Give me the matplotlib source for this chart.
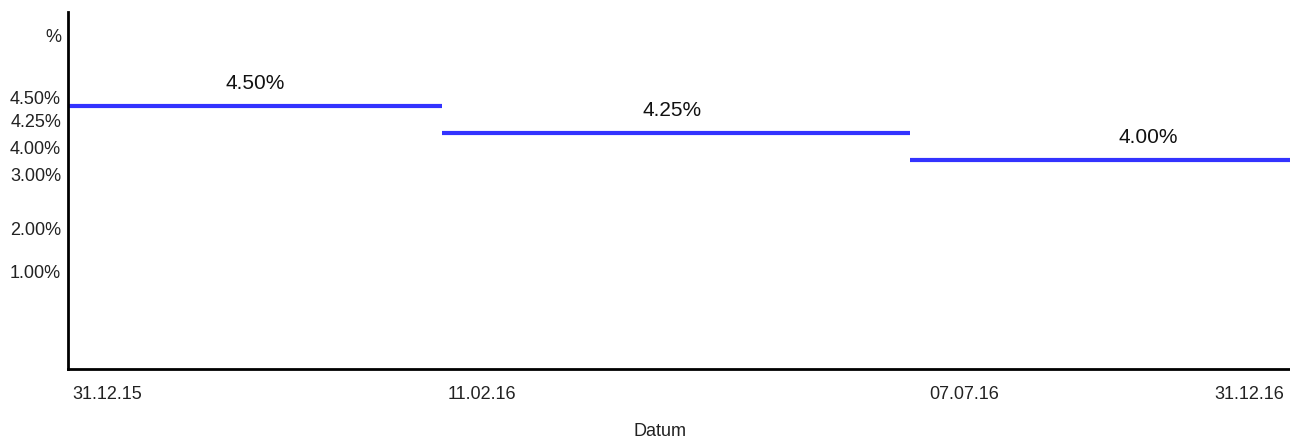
import matplotlib.pyplot as plt

plt.rcParams['font.family'] = ['Liberation Sans', 'DejaVu Sans']

# step segments (x in axis scale units, rates in %)
seg_start = [0, 374, 842]
seg_end = [374, 842, 1222]
rates = [4.50, 4.25, 4.00]
rate_labels = ['4.50%', '4.25%', '4.00%']
label_x = [187, 604, 1080]

# date axis labels
dates = ['31.12.15', '11.02.16', '07.07.16', '31.12.16']
date_pos = [39, 414, 896, 1181]

# y tick labels as drawn in the original
ytick_pos = [5.148, 4.583, 4.361, 4.111, 3.861, 3.37, 2.963]
ytick_text = ['%', '4.50%', '4.25%', '4.00%', '3.00%', '2.00%', '1.00%']

fig = plt.figure(figsize=(12.9, 4.41), dpi=100)
ax = fig.add_axes([68/1290, 1-369/441, 1-68/1290, (369-12)/441])

for x0, x1, r in zip(seg_start, seg_end, rates):
    ax.hlines(r, x0, x1, color='#3333ff', linewidth=3)

for x, r, t in zip(label_x, rates, rate_labels):
    ax.annotate(t, (x, r), xytext=(0, 9), textcoords='offset points',
                ha='center', va='bottom', fontsize=15, color='#111111')

ax.set_xlim(0, 1222)
ax.set_ylim(2.065, 5.37)
ax.set_yticks(ytick_pos)
ax.set_yticklabels(ytick_text, fontsize=13, color='#222222')
ax.set_xticks(date_pos)
ax.set_xticklabels(dates, fontsize=13, color='#222222')
ax.tick_params(length=0, pad=5)
ax.tick_params(axis='x', pad=12)

for s in ['top', 'right']:
    ax.spines[s].set_visible(False)
for s in ['left', 'bottom']:
    ax.spines[s].set_linewidth(2)
    ax.spines[s].set_color('black')

fig.text(660/1290, 1-432/441, 'Datum', ha='center', va='center', fontsize=13, color='#222222')

fig.savefig('out.png', dpi=100)
